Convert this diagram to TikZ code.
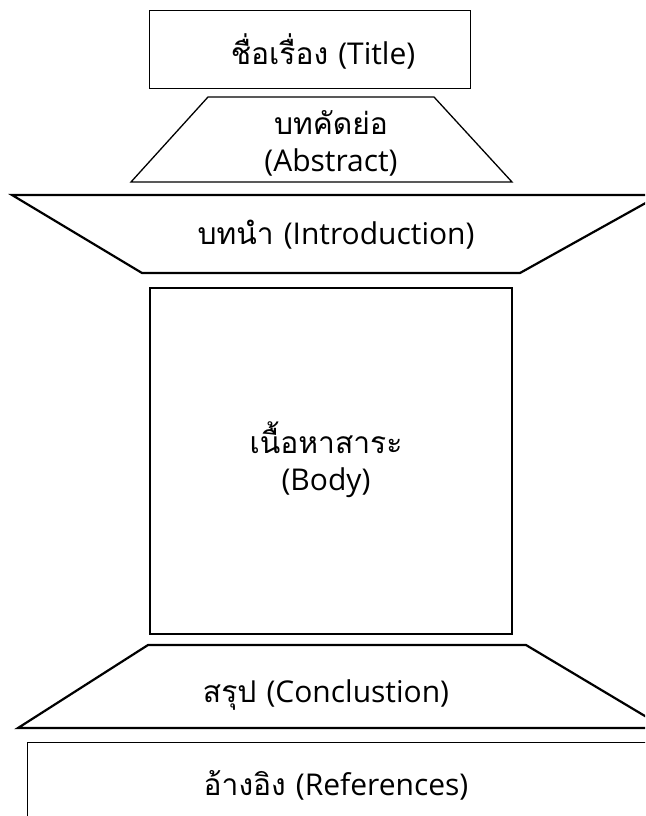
\documentclass[tikz,border=0pt]{standalone}
\usepackage{fontspec}
\setmainfont[Script=Thai]{Loma}
\newfontfamily\latfont{Open Sans}
\newcommand{\en}[1]{{\latfont #1}}
\begin{document}
\begin{tikzpicture}[x=1pt,y=-1pt,
    txt/.style={font=\fontsize{30}{37}\selectfont, align=center}]
    \useasboundingbox (0,0) rectangle (645,816);
    \clip (0,0) rectangle (645,816);
    \fill[white] (0,0) rectangle (645,816);
    \draw[line width=0.8pt] (149,10) rectangle (470,88);
    \node[txt] (title) at (323,51) {ชื่อเรื่อง \en{(Title)}};
    \draw[line width=1.3pt] (208,97) -- (434,97) -- (512,182) -- (131,182) -- cycle;
    \node[txt] (abstract) at (331,143) {บทคัดย่อ\\\en{(Abstract)}};
    \draw[line width=2.2pt] (12,195) -- (660,195) -- (520,273) -- (142,273) -- cycle;
    \node[txt] (intro) at (336,235) {บทนำ \en{(Introduction)}};
    \draw[line width=1.8pt] (150,288) rectangle (512,634);
    \node[txt] (body) at (326,460) {เนื้อหาสาระ\\\en{(Body)}};
    \draw[line width=2.2pt] (148,645) -- (526,645) -- (665,728) -- (18,728) -- cycle;
    \node[txt] (concl) at (326,695) {สรุป \en{(Conclustion)}};
    \draw[line width=0.8pt] (27,830) -- (27,742) -- (660,742);
    \node[txt] (refs) at (336,785) {อ้างอิง \en{(References)}};
\end{tikzpicture}
\end{document}
